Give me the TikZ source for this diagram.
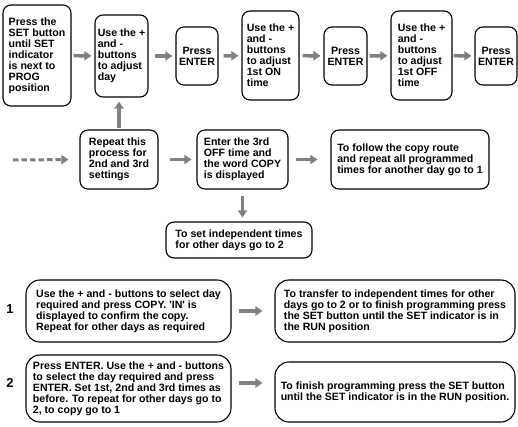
\documentclass[tikz,border=0pt]{standalone}
\usepackage{fontspec}
\setmainfont{Liberation Sans}
\usepackage{tikz}
\usetikzlibrary{arrows.meta, calc}
\definecolor{arrowgrey}{HTML}{808080}
\tikzset{
  stepbox/.style={draw,line width=1.1pt,rounded corners=8pt,align=left,inner xsep=2pt,inner ysep=2pt,font=\fontsize{10.6}{11}\selectfont\bfseries},
  enterbox/.style={stepbox,align=center},
  notebox/.style={stepbox,rounded corners=14pt},
  stepno/.style={inner sep=0pt,font=\fontsize{13}{13}\selectfont\bfseries},
  flow/.style={line width=3.5pt,draw=arrowgrey,-{Triangle[length=7pt,width=9pt]},shorten >=3pt,shorten <=3pt},
  flowdash/.style={flow,line width=3pt,dash pattern=on 5.5pt off 3pt},
}

\begin{document}
\begin{tikzpicture}[x=1pt,y=-1pt]
 \useasboundingbox (0,0) rectangle (518,426);
 % top row
 \node[stepbox,minimum width=68pt,minimum height=101pt] (PROG) at (37,55.5) {Press the\\SET button\\until SET\\indicator\\is next to\\PROG\\position};
 \node[stepbox,minimum width=53pt,minimum height=82pt] (DAY) at (121.5,56) {Use the +\\and -\\buttons\\to adjust\\day};
 \node[enterbox,minimum width=42pt,minimum height=58pt] (ENTERA) at (197,56) {Press\\ENTER};
 \node[stepbox,minimum width=57pt,minimum height=89pt] (ON) at (270.5,55.5) {Use the +\\and -\\buttons\\to adjust\\1st ON\\time};
 \node[enterbox,minimum width=43pt,minimum height=58pt] (ENTERB) at (345.5,56) {Press\\ENTER};
 \node[stepbox,minimum width=61pt,minimum height=89pt] (OFF) at (421.5,55.5) {Use the +\\and -\\buttons\\to adjust\\1st OFF\\time};
 \node[enterbox,minimum width=42pt,minimum height=58pt] (ENTERC) at (496,56) {Press\\ENTER};
 \draw[flow,shorten <=2pt] (PROG) -- (DAY);
 \draw[flow,shorten <=6pt] (DAY) -- (ENTERA);
 \draw[flow,shorten <=5pt] (ENTERA) -- (ON);
 \draw[flow] (ON) -- (ENTERB);
 \draw[flow,shorten <=2pt] (ENTERB) -- (OFF);
 \draw[flow,shorten <=1pt] (OFF) -- (ENTERC);
 % middle row
 \coordinate (DASHSTART) at (13,160);
 \node[stepbox,minimum width=78pt,minimum height=59pt] (REPEAT) at (119,159.5) {Repeat this\\process for\\2nd and 3rd\\settings};
 \node[stepbox,minimum width=91pt,minimum height=59pt] (COPY) at (242.5,159.5) {Enter the 3rd\\OFF time and\\the word COPY\\is displayed};
 \node[stepbox,minimum width=158pt,minimum height=59pt] (FOLLOW) at (410,159.5) {To follow the copy route\\and repeat all programmed\\times for another day go to 1};
 \node[stepbox,minimum width=146pt,minimum height=36pt] (INDEP) at (239,240) {To set independent times\\for other days go to 2};
 \draw[flowdash,shorten <=0pt,shorten >=11pt] (DASHSTART) -- (REPEAT.west);
 \draw[flow,shorten <=1pt,shorten >=4pt] (REPEAT.north) -- (REPEAT.north |- DAY.south);
 \draw[flow,shorten <=11pt,shorten >=5pt] (REPEAT) -- (COPY);
 \draw[flow,shorten <=7pt,shorten >=13pt] (COPY) -- (FOLLOW);
 \draw[flow,shorten <=6pt,shorten >=4pt] (COPY.south) -- (COPY.south |- INDEP.north);
 % routes 1 and 2
 \node[stepno] (ONE) at (10,309) {1};
 \node[stepno] (TWO) at (10,383) {2};
 \node[notebox,minimum width=205pt,minimum height=62pt] (COPYDAY) at (128.5,311) {Use the + and - buttons to select day\\required and press COPY. \textquotesingle IN\textquotesingle{} is\\displayed to confirm the copy.\\Repeat for other days as required};
 \node[notebox,minimum width=240pt,minimum height=62pt] (TRANSFER) at (395,311) {To transfer to independent times for other\\days go to 2 or to finish programming press\\the SET button until the SET indicator is in\\the RUN position};
 \node[notebox,minimum width=205pt,minimum height=67pt] (SETDAY) at (128.5,388.5) {Press ENTER. Use the + and - buttons\\to select the day required and press\\ENTER. Set 1st, 2nd and 3rd times as\\before. To repeat for other days go to\\2, to copy go to 1};
 \node[notebox,minimum width=240pt,minimum height=60pt] (FINISH) at (395,392) {To finish programming press the SET button\\until the SET indicator is in the RUN position.};
 \draw[flow,shorten <=7pt,shorten >=12pt] (COPYDAY) -- (TRANSFER);
 \draw[flow,shorten <=7pt,shorten >=12pt] ([yshift=5.5pt]SETDAY.east) -- ([yshift=5.5pt]SETDAY.east -| FINISH.west);
\end{tikzpicture}
\end{document}
